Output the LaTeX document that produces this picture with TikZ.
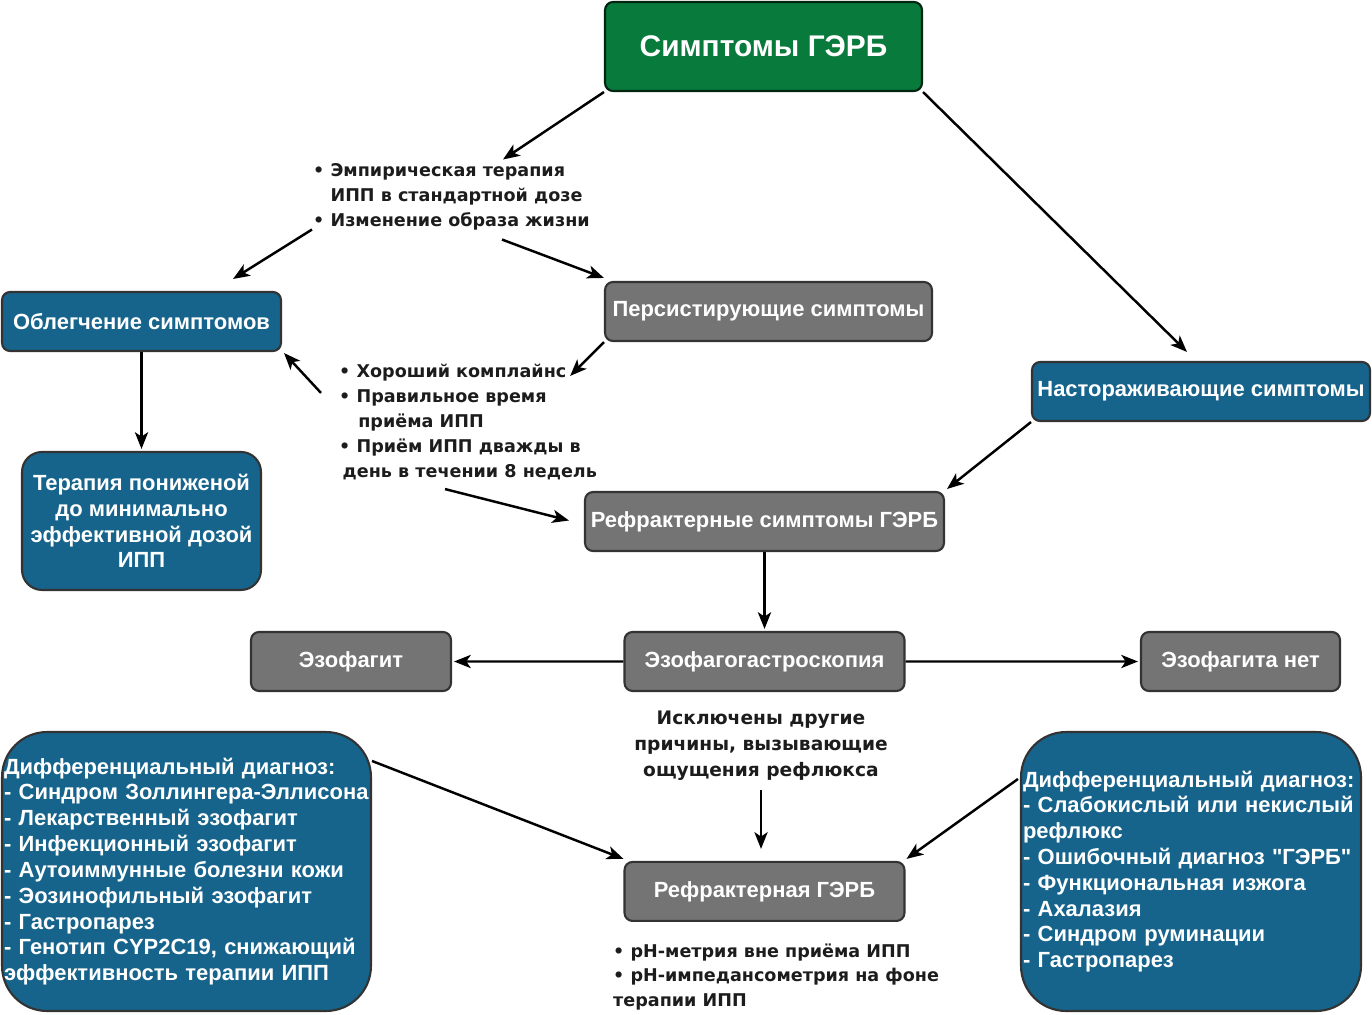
\documentclass[tikz,border=0pt]{standalone}
\usepackage{fontspec}
\setmainfont{Liberation Sans}[Ligatures=TeXOff]
\newfontfamily\notefont{DejaVu Sans}
\usetikzlibrary{arrows.meta,positioning,calc}

\definecolor{gerdgreen}{RGB}{8,122,60}
\definecolor{boxblue}{RGB}{22,100,140}
\definecolor{boxgray}{RGB}{116,116,116}
\definecolor{notegray}{RGB}{28,28,28}

\begin{document}
\begin{tikzpicture}[x=0.02cm,y=-0.02cm,>={Stealth[length=9.5pt,width=7.5pt,inset=2.5pt]},line width=1.4pt,
  box/.style={draw=black!80,line width=1.2pt,rounded corners=0.16cm,text=white,
    font=\bfseries\fontsize{12.5}{14.7}\selectfont,minimum height=1.18cm,inner sep=0pt},
  greenbox/.style={box,fill=gerdgreen,draw=black!70!gerdgreen,font=\bfseries\fontsize{17}{20}\selectfont},
  bluebox/.style={box,fill=boxblue},
  graybox/.style={box,fill=boxgray},
  diagbox/.style={bluebox,rounded corners=0.9cm,align=left,minimum height=5.58cm},
  note/.style={font=\notefont\bfseries\fontsize{10}{14.2}\selectfont,text=notegray,align=left,inner sep=0pt}]

\useasboundingbox (0,0) rectangle (1372,1014);

\node[greenbox,minimum width=6.34cm,minimum height=1.78cm] (gerd) at (763.5,46.5) {Симптомы ГЭРБ};
  \node[bluebox,minimum width=5.58cm] (relief) at (141.5,321.5) {Облегчение симптомов};
  \node[bluebox,minimum width=4.78cm,minimum height=2.76cm,align=center,rounded corners=0.4cm] (lowdose) [below of=relief,node distance=3.99cm] {Терапия пониженой\\до минимально\\эффективной дозой\\ИПП};
  \node[graybox,minimum width=6.54cm] (persist) at (768.5,311.5) {Персистирующие симптомы};
  \node[bluebox,minimum width=6.76cm] (alarm) at (1201,391.5) {Настораживающие симптомы};
  \node[graybox,minimum width=7.18cm] (refsym) at (764.5,521.5) {Рефрактерные симптомы ГЭРБ};
	\node[graybox,minimum width=5.6cm] (egds) [below of=refsym,node distance=2.8cm] {Эзофагогастроскопия};
	\node[graybox,minimum width=4cm] (esoph) at (351,661.5) {Эзофагит};
	\node[graybox,minimum width=3.98cm] (noesoph) at (1240.5,661.5) {Эзофагита нет};
	\node[graybox,minimum width=5.6cm] (refgerd) [below of=egds,node distance=4.6cm] {Рефрактерная ГЭРБ};

\node[diagbox,minimum width=7.38cm,text width=7.3cm] (ddleft) at (186.5,871.5) {Дифференциальный диагноз:\\- Синдром Золлингера-Эллисона\\- Лекарственный эзофагит\\- Инфекционный эзофагит\\- Аутоиммунные болезни кожи\\- Эозинофильный эзофагит\\- Гастропарез\\- Генотип CYP2C19, снижающий\\эффективность терапии ИПП};
\node[diagbox,minimum width=6.8cm,text width=6.72cm] (ddright) at (1191,871.5) {Дифференциальный диагноз:\\- Слабокислый или некислый\\рефлюкс\\- Ошибочный диагноз "ГЭРБ"\\- Функциональная изжога\\- Ахалазия\\- Синдром руминации\\- Гастропарез};

\node[note,anchor=west] (pretx) at (312,197) {• Эмпирическая терапия\\\phantom{• }ИПП в стандартной дозе\\• Изменение образа жизни};
\node[note,anchor=west] (comply) at (338,422) {• Хороший комплайнс\\• Правильное время\\\phantom{• }\hspace{1pt}приёма ИПП\\• Приём ИПП дважды в\\\hspace{2pt}день в течении 8 недель};
\node[note,align=center,font=\notefont\bfseries\fontsize{10.6}{14.8}\selectfont] (exclude) at (761,746) {Исключены другие\\причины, вызывающие\\ощущения рефлюкса};
\node[note,anchor=west] (phtest) at (612,977) {• pH-метрия вне приёма ИПП\\• pH-импедансометрия на фоне\\терапии ИПП};

\path[->] (gerd.south west) edge ($(pretx.north west)+(191,-3)$)
          (gerd.south east) edge ($(alarm.north)+(-14,-9)$)

	($(pretx.south west)+(0,-2)$) edge ($(relief.north east)+(-49,-12)$)
	($(pretx.south west)+(190,8)$) edge ($(persist.north west)+(0,-3)$)

	(persist.south west) edge ($(comply.north east)+(-28,13)$)
	($(comply.north west)+(-17,30)$) edge ($(relief.south east)+(2,1)$)
	($(comply.south west)+(107,8)$) edge ($(refsym.west)+(-15,-1)$)

	(alarm.south west) edge ($(refsym.north east)+(2,-2)$)
	(relief.south) edge ($(lowdose.north)+(0,-2)$)
	(refsym.south) edge ($(egds.north)+(0,-2)$)
	(egds.west) edge ($(esoph.east)+(2,0)$)
	(egds.east) edge ($(noesoph.west)+(-2,0)$)

	($(exclude.south)+(0,8)$) edge ($(exclude.south |- refgerd.north)+(0,-12)$)
	($(ddleft.north east)+(0,30)$) edge ($(refgerd.north west)+(0,-2)$)
	($(ddright.north west)+(-2,48)$) edge ($(refgerd.north east)+(1,-2)$);

\end{tikzpicture}
\end{document}
